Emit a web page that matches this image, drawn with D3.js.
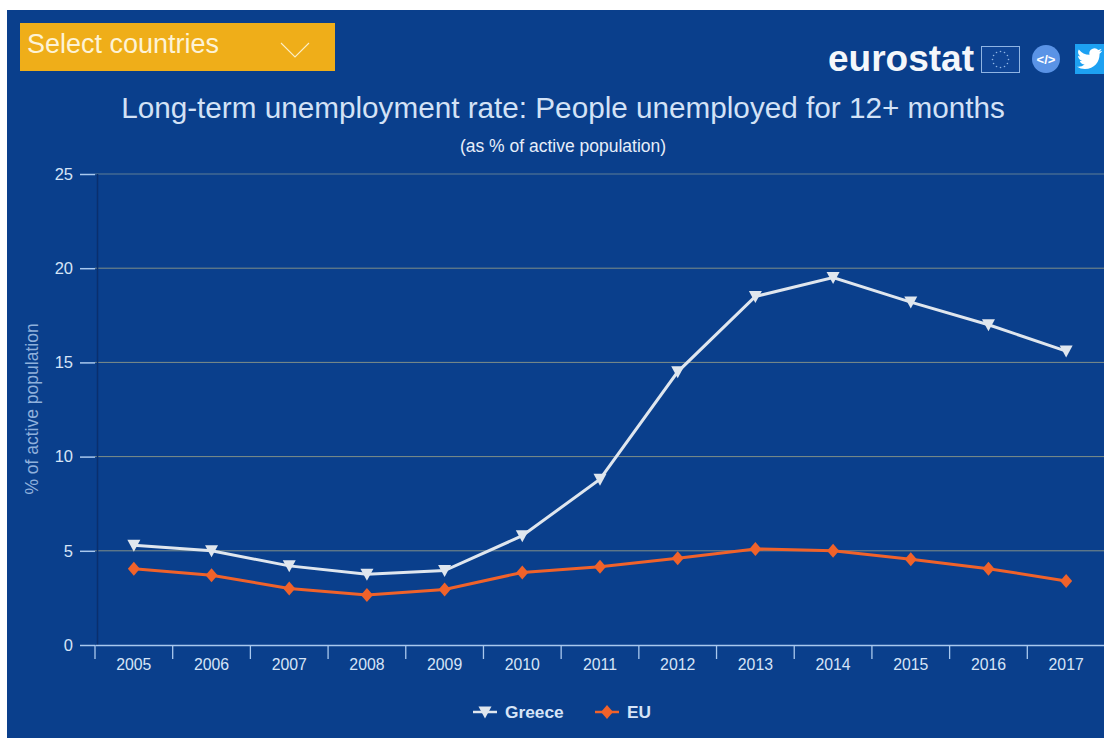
<!DOCTYPE html>
<html>
<head>
<meta charset="utf-8">
<script src="https://cdn.jsdelivr.net/npm/d3@7/dist/d3.min.js"></script>
<style>
html,body{margin:0;padding:0;background:#fff;}
svg{display:block;font-family:"Liberation Sans",Arial,sans-serif;}
</style>
</head>
<body>
<svg id="chart" width="1104" height="738"></svg>
<script>
const years = [2005,2006,2007,2008,2009,2010,2011,2012,2013,2014,2015,2016,2017];
const greece = [5.3,5.0,4.2,3.75,3.95,5.8,8.8,14.5,18.5,19.5,18.2,17.0,15.6];
const eu = [4.05,3.7,3.0,2.65,2.95,3.85,4.15,4.6,5.1,5.0,4.55,4.05,3.4];
const yTicks = [0,5,10,15,20,25];
const seriesNames = ["Greece","EU"];

const svg = d3.select("#chart");
const navy = "#0a3f8c", axisBlue = "#a9c8ee", grid = "#7f8f88";

svg.append("rect").attr("x",7).attr("y",10).attr("width",1097).attr("height",728).attr("fill",navy);

// Country selector
svg.append("rect").attr("x",20).attr("y",23).attr("width",315).attr("height",48).attr("fill","#efae19");
svg.append("text").attr("x",27).attr("y",53).attr("font-size",27).attr("fill","#fdf3d6").text("Select countries");
svg.append("path").attr("d",d3.line()([[281,43],[295,57],[309,43]])).attr("fill","none").attr("stroke","#fbeec8").attr("stroke-width",1.1);

// Branding
svg.append("text").attr("x",828).attr("y",71).attr("font-size",37).attr("font-weight",700).attr("fill","#f4f7fb").text("eurostat");
svg.append("rect").attr("x",981.5).attr("y",46.5).attr("width",38).attr("height",26).attr("fill","#0f4596").attr("stroke","#8fb4e3").attr("stroke-width",1);
const stars = d3.range(12).map(i=>i*Math.PI/6);
svg.append("g").selectAll("circle").data(stars).join("circle")
  .attr("cx",d=>1000.5+8*Math.cos(d)).attr("cy",d=>59.5+8*Math.sin(d)).attr("r",0.8).attr("fill","#8fb4e3");
svg.append("circle").attr("cx",1046).attr("cy",59).attr("r",14).attr("fill","#5a93e6");
svg.append("text").attr("x",1046).attr("y",64).attr("text-anchor","middle").attr("font-size",13).attr("font-weight",700).attr("fill","#fff").text("</>");
svg.append("rect").attr("x",1075).attr("y",44).attr("width",29).attr("height",30).attr("fill","#1da1f2");
svg.append("path").attr("transform","translate(1077,46) scale(1.05)")
  .attr("d","M24 4.6c-.9.4-1.8.7-2.8.8 1-.6 1.8-1.6 2.2-2.7-1 .6-2 1-3.1 1.2A4.9 4.9 0 0 0 11.9 8.4 13.9 13.9 0 0 1 1.7 3.3a4.9 4.9 0 0 0 1.5 6.6c-.8 0-1.6-.2-2.2-.6v.1c0 2.4 1.7 4.4 3.9 4.8-.7.2-1.5.2-2.2.1.6 2 2.4 3.4 4.6 3.4A9.9 9.9 0 0 1 0 19.7 13.9 13.9 0 0 0 7.5 22c9.1 0 14-7.500 14-14v-.6c1-.7 1.800-1.600 2.500-2.800z")
  .attr("fill","#fff");

// Titles
svg.append("text").attr("x",563).attr("y",118).attr("text-anchor","middle").attr("font-size",29.7).attr("fill","#d3e2f6").text("Long-term unemployment rate: People unemployed for 12+ months");
svg.append("text").attr("x",563).attr("y",152).attr("text-anchor","middle").attr("font-size",17.5).attr("fill","#e6eefa").text("(as % of active population)");

// Scales
const x = d3.scaleBand().domain(years).range([95,1105]);
const y = d3.scaleLinear().domain([0,25]).range([645,174]);
const cx = d => x(d)+x.bandwidth()/2;

// Horizontal gridlines and left tick stubs
const gy = svg.append("g").attr("transform","translate(95,0)")
  .call(d3.axisLeft(y).tickValues(yTicks).tickSize(15).tickPadding(7));
gy.select(".domain").remove();
gy.selectAll(".tick line").attr("stroke",axisBlue).attr("stroke-width",1.5);
gy.selectAll(".tick text").attr("fill","#d6e4f7").attr("font-size",16.5).attr("font-family","Liberation Sans, Arial, sans-serif");
svg.append("g").selectAll("line").data(yTicks.filter(d=>d>0)).join("line")
  .attr("x1",95).attr("x2",1104).attr("y1",y).attr("y2",y)
  .attr("stroke",d=>d===25?"#5f7f95":grid).attr("stroke-width",1);
svg.append("line").attr("x1",97.5).attr("x2",97.5).attr("y1",174).attr("y2",645).attr("stroke","#0a2f6e").attr("stroke-width",1.5);

// Category axis with ticks on band edges
const gx = svg.append("g").attr("transform","translate(0,645)")
  .call(d3.axisBottom(x).tickSize(0).tickPadding(14));
gx.select(".domain").attr("stroke",axisBlue).attr("stroke-width",1.5);
gx.selectAll(".tick text").attr("fill","#d6e4f7").attr("font-size",15.8).attr("font-family","Liberation Sans, Arial, sans-serif");
svg.append("g").selectAll("line").data(years).join("line")
  .attr("x1",d=>x(d)).attr("x2",d=>x(d)).attr("y1",645).attr("y2",659)
  .attr("stroke",axisBlue).attr("stroke-width",1.3);

// Data lines
const lineFor = vals => d3.line().x((d,i)=>cx(years[i])).y(d=>y(d))(vals);
const greeceColor = "#dfe6ee", euColor = "#f0622a";
const triPath = "M-6.5,-5.5 L6.5,-5.5 L0,6.5 Z";
const diaPath = "M0,-7 L6,0 L0,7 L-6,0 Z";

svg.append("path").attr("d",lineFor(greece)).attr("fill","none").attr("stroke",greeceColor).attr("stroke-width",3);
svg.append("g").selectAll("path").data(greece).join("path")
  .attr("d",triPath).attr("fill",greeceColor)
  .attr("transform",(d,i)=>`translate(${cx(years[i])},${y(d)})`);
svg.append("path").attr("d",lineFor(eu)).attr("fill","none").attr("stroke",euColor).attr("stroke-width",3);
svg.append("g").selectAll("path").data(eu).join("path")
  .attr("d",diaPath).attr("fill",euColor)
  .attr("transform",(d,i)=>`translate(${cx(years[i])},${y(d)})`);

// Legend
const legend = [
  {name:seriesNames[0],color:greeceColor,mark:triPath,x0:473,tx:505},
  {name:seriesNames[1],color:euColor,mark:diaPath,x0:595,tx:627}
];
const lg = svg.append("g").selectAll("g").data(legend).join("g");
lg.append("line").attr("x1",d=>d.x0).attr("x2",d=>d.x0+24).attr("y1",712).attr("y2",712).attr("stroke",d=>d.color).attr("stroke-width",2.5);
lg.append("path").attr("d",d=>d.mark).attr("fill",d=>d.color).attr("transform",d=>`translate(${d.x0+12},712)`);
lg.append("text").attr("x",d=>d.tx).attr("y",718).attr("font-size",17.3).attr("font-weight",700).attr("fill","#d6e4f7").text(d=>d.name);

// Vertical axis title
svg.append("text").attr("transform","translate(38,409) rotate(-90)").attr("text-anchor","middle").attr("font-size",17.5).attr("fill","#8fb0dc").text("% of active population");
</script>
</body>
</html>
